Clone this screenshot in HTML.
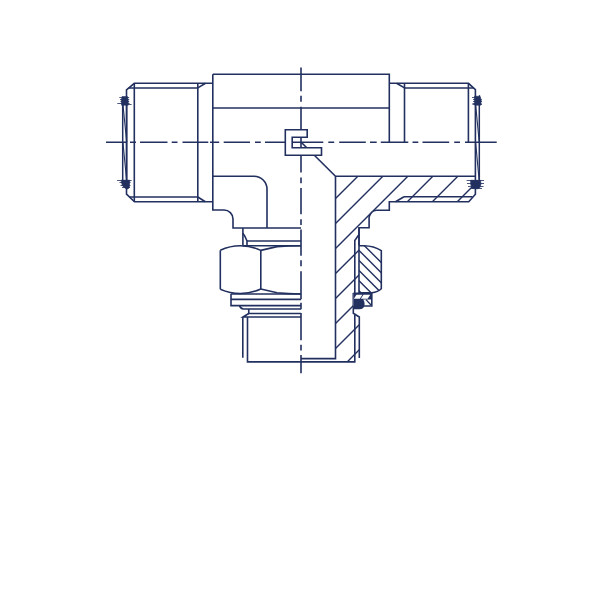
<!DOCTYPE html>
<html><head><meta charset="utf-8"><style>
html,body{margin:0;padding:0;background:#fff;width:600px;height:600px;overflow:hidden}
svg{display:block}
</style></head><body>
<svg width="600" height="600" viewBox="0 0 600 600">
<defs>
<clipPath id="c1"><path d="M335.5 176.2H475.4V194.2L468.75 201.7H389.3V210.3H376.3Q371 211 369.1 217V227.7H359V293H353.3V313.3L359.3 317V358L355 361.8H335.5Z"/></clipPath>
<clipPath id="c2"><path d="M359 245.7H364Q374 245.9 381.3 250.6V288.7Q378 292 371.9 292.7H359Z"/></clipPath>
</defs>
<g fill="none" stroke="#22305f" stroke-width="1.6" stroke-linecap="butt" stroke-linejoin="miter">
<g clip-path="url(#c1)" stroke-width="1.4"><path d="M300 234.10000000000002L500 34.10000000000002M300 259.1L500 59.10000000000002M300 284.1L500 84.10000000000002M300 309.1L500 109.10000000000002M300 334.1L500 134.10000000000002M300 359.1L500 159.10000000000002M300 384.1L500 184.10000000000002M300 409.1L500 209.10000000000002"/></g>
<g clip-path="url(#c2)" stroke-width="1.4"><path d="M340 221.3L400 281.3M340 231.39999999999998L400 291.4M340 241.5L400 301.5M340 251.6L400 311.6M340 261.7L400 321.7M340 271.8L400 331.8M340 281.9L400 341.9"/></g>
<path d="M106 142.2H126M130 142.2H136M140 142.2H167.5M171.7 142.2H177.5M182.5 142.2H208.3M210 142.2H219.2M223.7 142.2H250M255 142.2H260.8M265 142.2H323.3M328.3 142.2H334.2M339.2 142.2H365.8M370 142.2H376.7M380.8 142.2H408.3M412.5 142.2H418.3M422.5 142.2H449.2M454.2 142.2H460M465 142.2H496.7M301 67.5V91.2M301 95.8V101.7M301 106.7V172.5M301 177.5V183.3M301 188V214.2M301 219.2V225M301 229.6V255.8M301 260.3V266.3M301 271.2V299.3M301 302.7V309.3M301 313V340.3M301 344.8V350.4M301 355V373.2" /><path d="M212.8 83.3H134.3L126.5 89.8V194.2L134.5 201.8H212.8" /><path d="M134.3 83.3V201.8" /><path d="M128.6 88H197.8M197.8 197H129.5" /><path d="M197.8 83.3V201.7" /><path d="M197.8 87.9L205.5 83.3" /><path d="M197.8 197L205.3 201.7" /><path d="M122.7 104V181M126.7 104V181" stroke-width="1.5"/><path d="M122.9 104L126.7 142M122.9 142L126.7 181" stroke-width="1.1"/><path d="M212.8 74.2H389.3V142.2" /><path d="M212.8 74.2V210H224A9 9 0 0 1 233 219V228H301" /><path d="M212.8 108H389.3" /><path d="M212.8 176.2H254A13 13 0 0 1 267 189.2V228" /><path d="M389.3 83.3H468.5L475.4 89.6V194.2L468.75 201.7H389.3V210.3H376.3Q371 211 369.1 217V227.7H359V245.7" /><path d="M468.4 83.3V142.2" /><path d="M404.5 88H473.3" /><path d="M404.5 83.3V142.2" /><path d="M396.6 83.3L404.5 87.9" /><path d="M479.3 104V181" stroke-width="1.5"/><path d="M475.6 104L479.2 142M475.6 142L479.2 181" stroke-width="1.1"/><path d="M301.2 142.2L335.5 176.2H475.4" /><path d="M335.5 176.2V358.6H301" /><path d="M404 196.8H472.5" /><path d="M404 196.8L395.5 201.7" /><path d="M359 227.7V245.7" /><path d="M359 234.5L354.8 240.5V293" /><path d="M359 245.7V293" /><path d="M359 245.7H364Q374 245.9 381.3 250.6V288.7Q378 292 371.9 292.7H359" /><path d="M353.3 293V313.3L359.3 317V358" /><path d="M354.8 314.7V361.9H247.5V317" /><path d="M242.8 317V357.8" /><path d="M242.9 228V245.7" /><path d="M242.9 233.2Q245.5 236.5 247 241V245.7" /><path d="M247 241H301" /><path d="M242.9 245.7H301" /><path d="M220.3 250.3V289.2" /><path d="M220.3 250.3C233 244.2 248 244.2 260.8 250.4V289" /><path d="M220.3 289.2C233 294.8 248 294.8 260.8 289" /><path d="M260.8 250.4L277 246.6Q288 245.8 300.8 245.7" /><path d="M260.8 289L277 292.7Q288 293.8 300.8 294" /><path d="M231 294H301M231 299.4H301M231 294V305.6H301" /><path d="M239.5 305.6Q240.5 309 243.5 309H301" /><path d="M248.75 309V313.5H301" /><path d="M248.75 313.5L243 317H301" />

<path d="M353.3 293.3H371.8V306H353.3Z" fill="#fff" stroke="none"/>
<path d="M353.3 293.3H371.8V299.6H363.2Q364.6 301 364.6 304Q364.6 309.2 359.2 309.3H353.3Z" fill="#22305f" stroke="none"/>
<path d="M353.9 298.8L356.4 294.7H362.4L359.8 298.8Z" fill="#fff" stroke="none"/>
<path d="M360.8 298.8L363.5 294.7H370.3L367.6 298.8Z" fill="#fff" stroke="none"/>
<path d="M366 299.6L371 305" stroke-width="1.3"/>
<path d="M353.3 293.3H371.8V306H362"/>

<path d="M122 96.6L127.5 96.6L128.2 100.5L128.2 105.2L121.5 105.2L121.3 100.5Z" fill="#22305f" stroke="#22305f" stroke-width="0.6" stroke-linejoin="round"/><path d="M119.3 97.5H129.2M120 99.5H129.2M120.5 101.5H129.2M117.3 103.5H129.6M122 104.5H131.6" stroke-width="0.9" opacity="0.9"/><path d="M121 180.2L129.8 180.2L129.5 184L129.3 187.5L128 189L126 188.7L123.5 187L122 184.5Z" fill="#22305f" stroke="#22305f" stroke-width="0.6" stroke-linejoin="round"/><path d="M117.1 180.5H131.6M119.5 182.5H130.5M120.5 185.5H130.5M122 187.5H130" stroke-width="0.9" opacity="0.9"/><path d="M474.5 96.3L479 96.3L479.5 95L480.5 97.5L481.2 100.5L480.6 105.2L474.8 105.2Z" fill="#22305f" stroke="#22305f" stroke-width="0.6" stroke-linejoin="round"/><path d="M472 97.5H480.5M473 99.5H481.8M473 101.5H482M472.5 103.5H481.5M472.5 104.5H482" stroke-width="0.9" opacity="0.9"/><path d="M470.5 180.3L480.5 180.3L481 184L480 187.5L478 188.8L472.5 188.5L470.8 185Z" fill="#22305f" stroke="#22305f" stroke-width="0.6" stroke-linejoin="round"/><path d="M466.6 180.5H484M467 183.5H484M468 186.5H483.5M470 188.5H482" stroke-width="0.9" opacity="0.9"/>
<path d="M285.3 129.7H307.2V137.2H292.2V147.7H321.5V155.2H285.3Z" fill="#fff"/>
</g>
</svg>
</body></html>
